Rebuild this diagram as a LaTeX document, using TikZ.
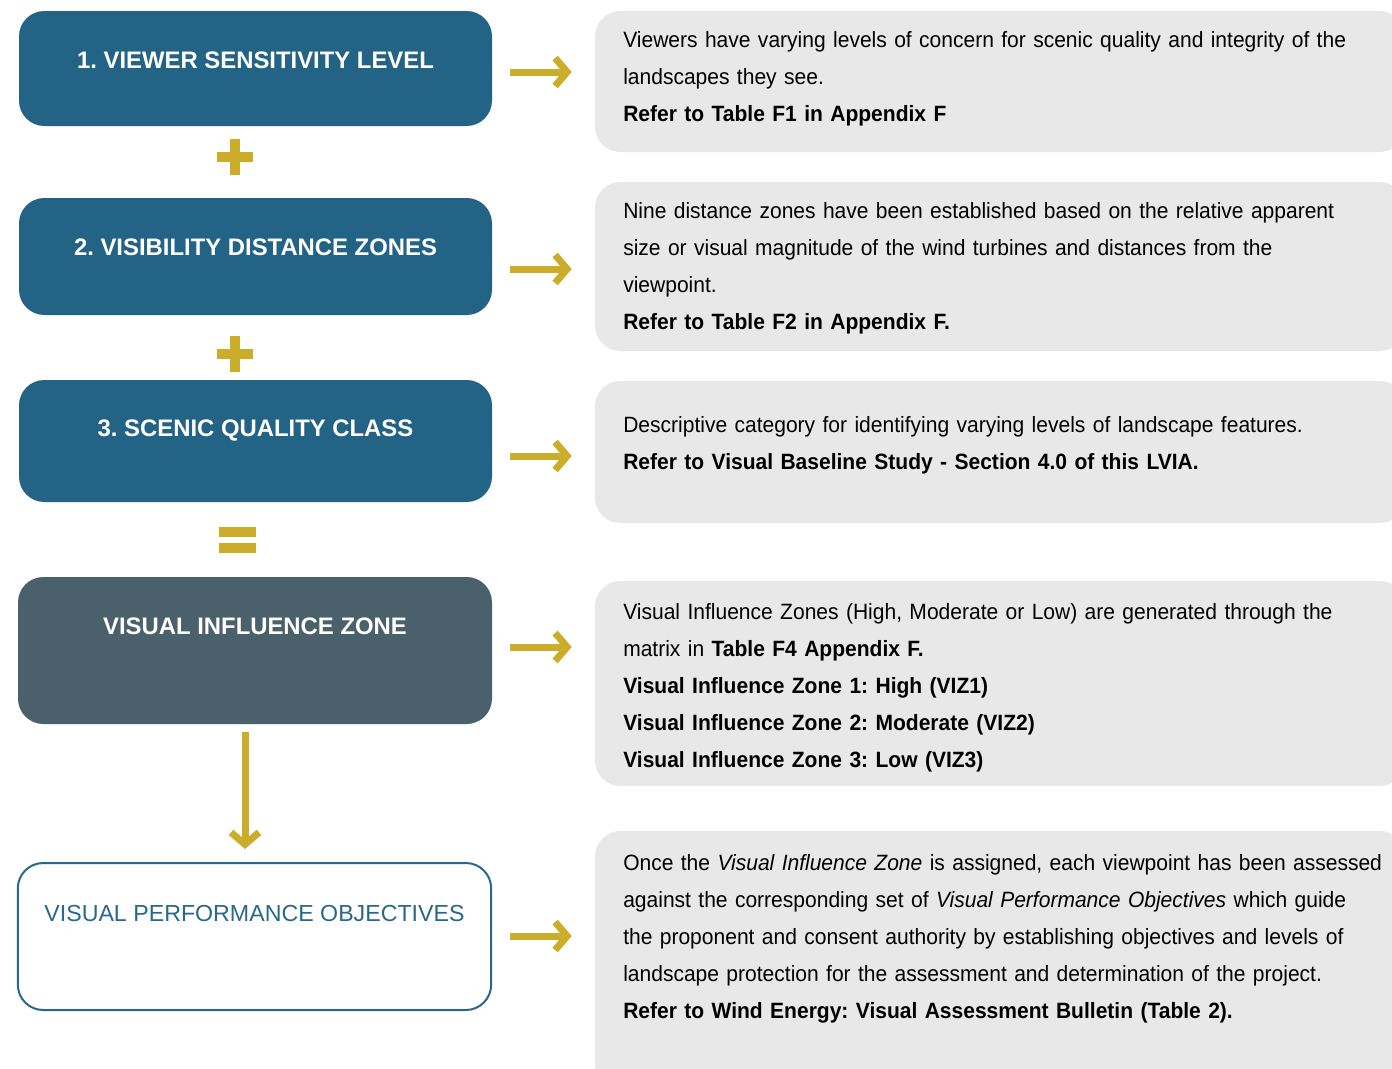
\documentclass[tikz,border=0pt]{standalone}
\usepackage{fontspec}
\setmainfont{Liberation Sans}
\newfontfamily\bodyfont[FakeStretch=0.95]{Liberation Sans}
\usetikzlibrary{arrows.meta}
\definecolor{boxblue}{HTML}{236385}
\definecolor{vizgray}{HTML}{4A616C}
\definecolor{gold}{HTML}{CCAD2B}
\definecolor{panel}{HTML}{E8E8E8}
\definecolor{vpoblue}{HTML}{28688A}
\frenchspacing
\tikzset{
  stepbox/.style={fill=boxblue, draw=none, rounded corners=19pt, inner sep=0pt, minimum width=354.75pt},
  vizbox/.style={fill=vizgray, draw=none, rounded corners=19pt, inner sep=0pt, minimum width=355.5pt},
  vpobox/.style={fill=white, draw=vpoblue, line width=1.5pt, rounded corners=19pt, inner sep=0pt, minimum width=355pt},
  panelbox/.style={fill=panel, draw=none, rounded corners=19pt, inner sep=0pt, minimum width=607.5pt},
  title/.style={text=white, font={\fontsize{17.9}{20}\selectfont\bfseries}, inner sep=0pt, anchor=base},
  body/.style={font={\frenchspacing\bodyfont\fontsize{16.6}{27.75}\selectfont}, text width=620pt, align=left, inner sep=0pt, anchor=base west},
  arr/.style={draw=gold, line width=5.25pt, -{Straight Barb[length=9pt, width=21pt]}},
  sym/.style={draw=gold, line width=7.5pt}
}
\begin{document}
\begin{tikzpicture}[x=0.75pt, y=-0.75pt]
\useasboundingbox (0,0) rectangle (1392,1068);
\clip (0,0) rectangle (1392,1068);
% left boxes
\node[stepbox, minimum height=86.25pt] (b1) at (255.5,68.5) {};
\node[stepbox, minimum height=87.75pt] (b2) at (255.5,256.5) {};
\node[stepbox, minimum height=91.5pt] (b3) at (255.5,441) {};
\node[vizbox, minimum height=110.25pt] (b4) at (255,650.5) {};
\node[vpobox, minimum height=110.25pt] (b5) at (254.5,936.5) {};
% titles
\node[title] (t1) at (255.5,68) {1. VIEWER SENSITIVITY LEVEL};
\node[title] (t2) at (255.5,255) {2. VISIBILITY DISTANCE ZONES};
\node[title] (t3) at (255.5,436) {3. SCENIC QUALITY CLASS};
\node[title] (t4) at (255,634) {VISUAL INFLUENCE ZONE};
\node[title, text=vpoblue, font={\fontsize{17.4}{20}\selectfont}] (t5) at (254.5,921) {VISUAL PERFORMANCE OBJECTIVES};
% right panels
\node[panelbox, minimum height=105.75pt] (g1) at (1000,81.5) {};
\node[panelbox, minimum height=126.75pt] (g2) at (1000,266.5) {};
\node[panelbox, minimum height=106.5pt] (g3) at (1000,452) {};
\node[panelbox, minimum height=153.75pt] (g4) at (1000,683.5) {};
\node[panelbox, minimum height=194.25pt] (g5) at (1000,960.5) {};
% panel texts
\node[body] (p1) at (623,47) {Viewers have varying levels of concern for scenic quality and integrity of the\\
landscapes they see.\\
\textbf{Refer to Table F1 in Appendix F}};
\node[body] (p2) at (623,218) {Nine distance zones have been established based on the relative apparent\\
size or visual magnitude of the wind turbines and distances from the\\
viewpoint.\\
\textbf{Refer to Table F2 in Appendix F.}};
\node[body] (p3) at (623,432) {Descriptive category for identifying varying levels of landscape features.\\
\textbf{Refer to Visual Baseline Study - Section 4.0 of this LVIA.}};
\node[body] (p4) at (623,619) {Visual Influence Zones (High, Moderate or Low) are generated through the\\
matrix in \textbf{Table F4 Appendix F.}\\
\textbf{Visual Influence Zone 1: High (VIZ1)}\\
\textbf{Visual Influence Zone 2: Moderate (VIZ2)}\\
\textbf{Visual Influence Zone 3: Low (VIZ3)}};
\node[body] (p5) at (623,870) {Once the \textit{Visual Influence Zone} is assigned, each viewpoint has been assessed\\
against the corresponding set of \textit{Visual Performance Objectives} which guide\\
the proponent and consent authority by establishing objectives and levels of\\
landscape protection for the assessment and determination of the project.\\
\textbf{Refer to Wind Energy: Visual Assessment Bulletin (Table 2).}};
% arrows
\draw[arr] ([shift={(18,3.5)}]b1.east) -- ([shift={(-23,-9.5)}]g1.west);
\draw[arr] ([shift={(18,12.5)}]b2.east) -- ([shift={(-23,2.5)}]g2.west);
\draw[arr] ([shift={(18,15)}]b3.east) -- ([shift={(-23,4)}]g3.west);
\draw[arr] ([shift={(18,-3.5)}]b4.east) -- ([shift={(-23,-36.5)}]g4.west);
\draw[arr] ([shift={(18,-0.5)}]b5.east) -- ([shift={(-23,-24.5)}]g5.west);
\draw[arr] ([shift={(-10,8)}]b4.south) -- ([shift={(-9.5,-13)}]b5.north);
% operators
\draw[sym] (217,157) -- (253,157) (235,139) -- (235,175);
\draw[sym] (217,354) -- (253,354) (235,336) -- (235,372);
\draw[sym] (219,532) -- (256,532) (219,548) -- (256,548);
\end{tikzpicture}
\end{document}
